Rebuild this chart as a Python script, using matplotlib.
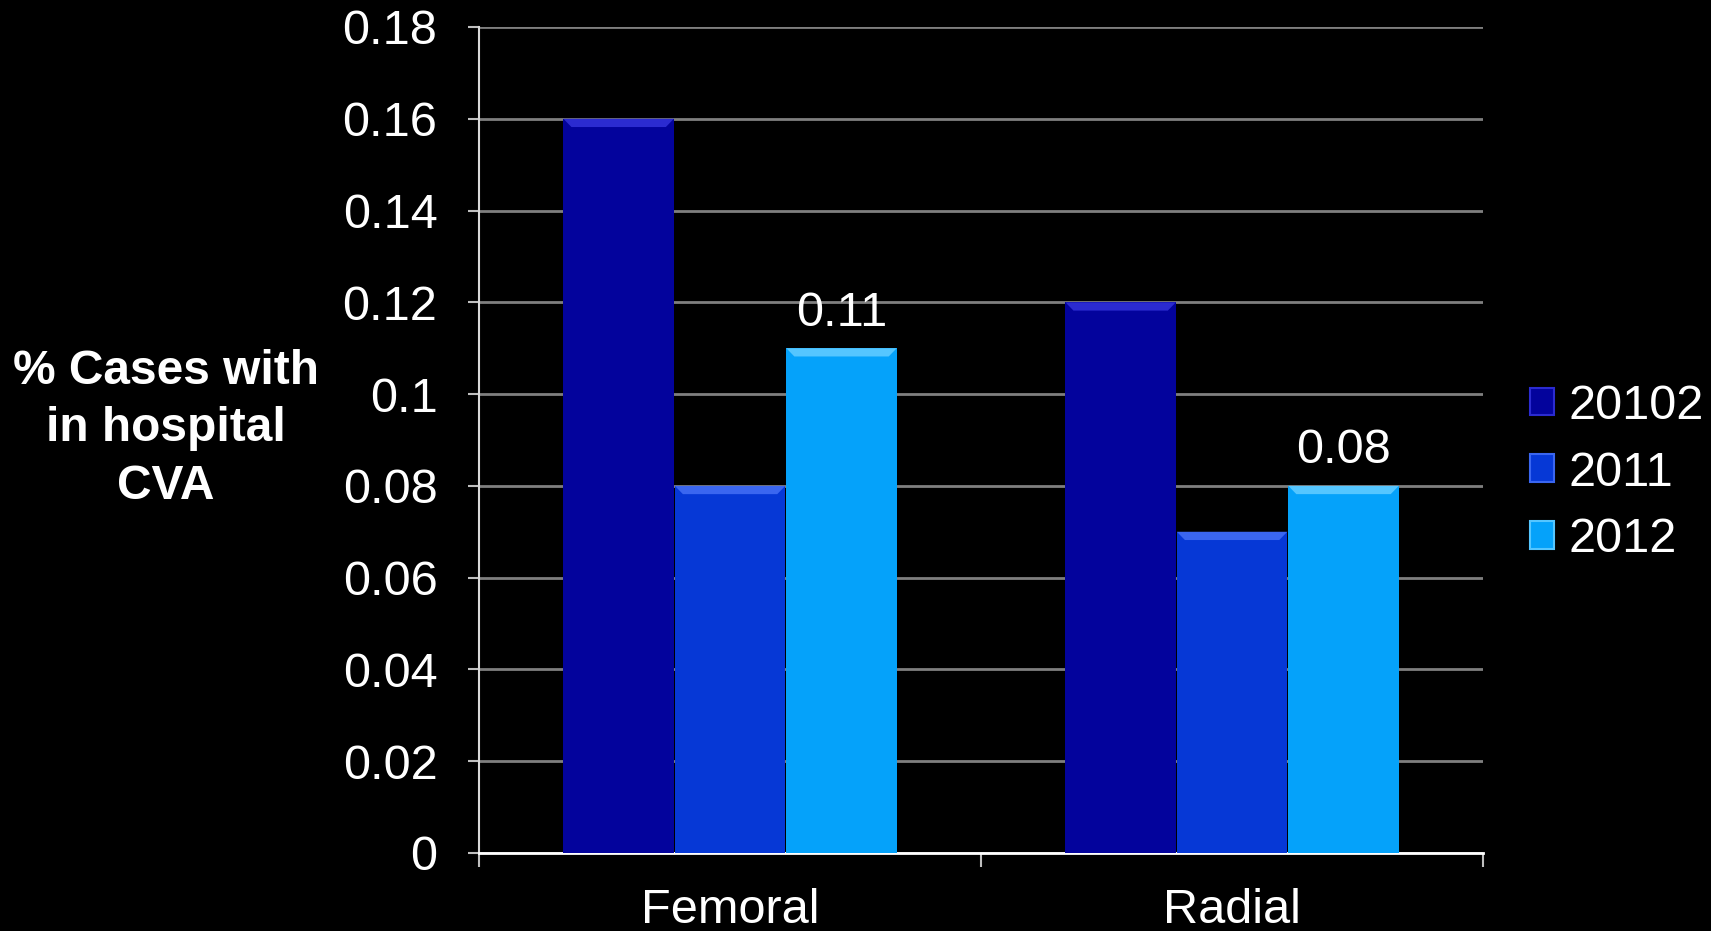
import matplotlib
matplotlib.use("Agg")
import matplotlib.pyplot as plt
from matplotlib.patches import Patch, Polygon
import numpy as np

categories = ["Femoral", "Radial"]
series_names = ["20102", "2011", "2012"]
values_20102 = [0.16, 0.12]
values_2011 = [0.08, 0.07]
values_2012 = [0.11, 0.08]
label_series = "2012"
yticks = [0, 0.02, 0.04, 0.06, 0.08, 0.1, 0.12, 0.14, 0.16, 0.18]
ytick_labels = ["0", "0.02", "0.04", "0.06", "0.08", "0.1", "0.12", "0.14", "0.16", "0.18"]
ylabel_lines = ["% Cases with", "in hospital", "CVA"]

colors = ["#03039C", "#0638D6", "#05A2FA"]
bevel = ["#2B2BD0", "#3A66F0", "#55C6FF"]

FS = 35

plt.rcParams['font.family'] = ['Liberation Sans', 'DejaVu Sans']
fig = plt.figure(figsize=(17.11, 9.31), dpi=100, facecolor="black")
ax = fig.add_axes([0.2800, 0.0838, 0.5868, 0.8872], facecolor="black")

x = np.arange(len(categories))
width = 0.22
step = 0.222
all_vals = [values_20102, values_2011, values_2012]
for i, (name, vals) in enumerate(zip(series_names, all_vals)):
    bars = ax.bar(x + (i - 1) * step, vals, width, color=colors[i], label=name, zorder=3)
    for b in bars:
        bx, bw, bh = b.get_x(), b.get_width(), b.get_height()
        dh = 0.0018
        dx = 0.016
        poly = Polygon([[bx, bh], [bx + bw, bh], [bx + bw - dx, bh - dh], [bx + dx, bh - dh]],
                       closed=True, facecolor=bevel[i], edgecolor="none", zorder=4)
        ax.add_patch(poly)
    if name == label_series:
        for b, v in zip(bars, vals):
            ax.annotate(f"{v:g}", (b.get_x() + b.get_width() / 2, v), xytext=(0, 9),
                        textcoords="offset points", ha="center", va="bottom",
                        color="white", fontsize=FS)

ax.set_ylim(0, 0.18)
ax.set_xlim(-0.5, 1.5)
ax.set_yticks(yticks)
ax.set_yticklabels(ytick_labels)
ax.yaxis.grid(True, color="#7f7f7f", linewidth=2, zorder=0)
ax.set_axisbelow(True)

ax.set_xticks([-0.5, 0.5, 1.5])
ax.set_xticklabels([])
ax.set_xticks(x, minor=True)
ax.set_xticklabels(categories, minor=True)
ax.tick_params(axis="x", which="major", length=10, width=1.5, color="#bfbfbf", direction="out")
ax.tick_params(axis="x", which="minor", length=0, pad=25, labelsize=FS, labelcolor="white")
ax.tick_params(axis="y", length=8, width=1.5, color="#bfbfbf", pad=22, labelsize=FS, labelcolor="white")

for s in ["top", "right"]:
    ax.spines[s].set_visible(False)
ax.spines["left"].set_color("#d9d9d9")
ax.spines["bottom"].set_color("#ffffff")
ax.spines["left"].set_linewidth(1.5)
ax.spines["bottom"].set_linewidth(2)

fig.text(166 / 1711, 1 - 429 / 931, "\n".join(ylabel_lines), color="white", fontsize=34.5,
         fontweight="bold", ha="center", va="center", linespacing=1.36)

handles = [Patch(facecolor=c, edgecolor=bv, linewidth=1.5) for c, bv in zip(colors, bevel)]
leg = ax.legend(handles, series_names, loc="center left",
                bbox_to_anchor=(1530 / 1711, 1 - 473 / 931), bbox_transform=fig.transFigure,
                frameon=False, fontsize=FS, labelcolor="white",
                handlelength=0.5, handleheight=0.5, handletextpad=0.3, labelspacing=0.45,
                borderaxespad=0, borderpad=0)

fig.savefig("out.png", dpi=100, facecolor="black")
